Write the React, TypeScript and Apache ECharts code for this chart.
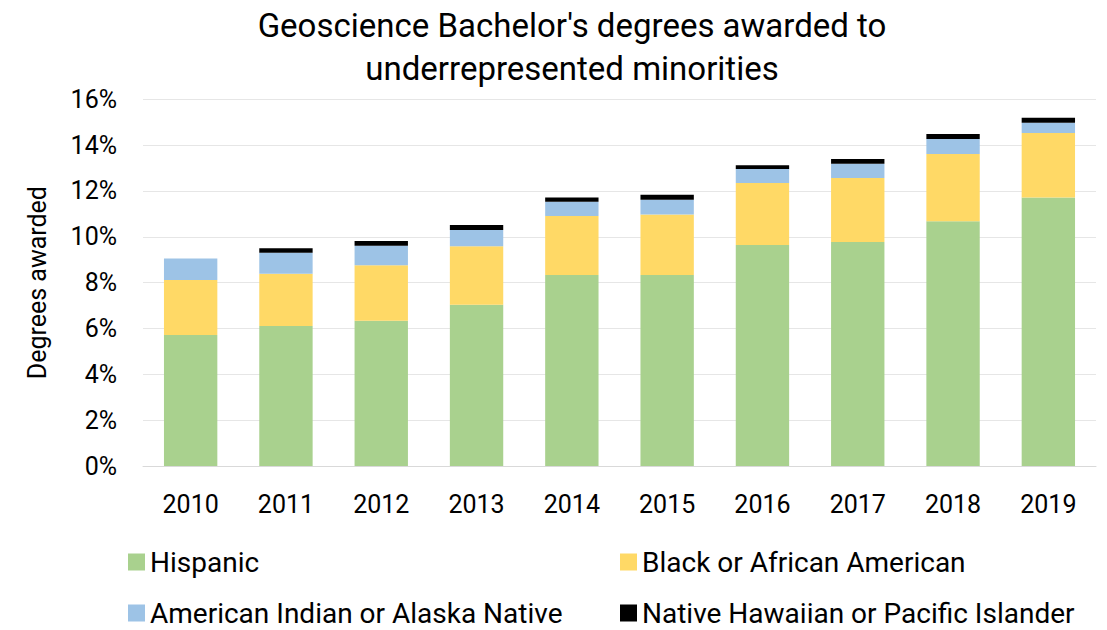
import React, { useEffect, useRef } from "react";
import * as echarts from "echarts";

const years = ["2010", "2011", "2012", "2013", "2014", "2015", "2016", "2017", "2018", "2019"];
const hispanic = [5.72, 6.11, 6.34, 7.04, 8.33, 8.33, 9.64, 9.77, 10.68, 11.71];
const black = [2.4, 2.28, 2.42, 2.55, 2.58, 2.64, 2.71, 2.8, 2.93, 2.82];
const amIndian = [0.93, 0.92, 0.85, 0.71, 0.62, 0.65, 0.61, 0.62, 0.66, 0.45];
const hawaiian = [0, 0.19, 0.21, 0.22, 0.19, 0.22, 0.16, 0.21, 0.22, 0.21];
const yTicks = [0, 2, 4, 6, 8, 10, 12, 14, 16];

const seriesNames = [
  "Hispanic",
  "Black or African American",
  "American Indian or Alaska Native",
  "Native Hawaiian or Pacific Islander",
];
const colors = ["#A9D18E", "#FFD966", "#9DC3E6", "#000000"];
const FONT = "Roboto, sans-serif";

export default function App() {
  const ref = useRef<HTMLDivElement>(null);
  useEffect(() => {
    if (!ref.current) return;
    const chart = echarts.init(ref.current, undefined, { renderer: "svg" });
    const dataSets = [hispanic, black, amIndian, hawaiian];
    const legendPos = [
      { left: 123, top: 543 },
      { left: 615, top: 543 },
      { left: 123, top: 594 },
      { left: 615, top: 594 },
    ];
    chart.setOption({
      animation: false,
      backgroundColor: "#ffffff",
      textStyle: { fontFamily: FONT },
      title: {
        text: "Geoscience Bachelor's degrees awarded to\nunderrepresented minorities",
        left: 567,
        textAlign: "center",
        top: -1,
        textStyle: { fontFamily: FONT, fontSize: 33, fontWeight: "normal", color: "#000", lineHeight: 43 },
      },
      legend: seriesNames.map((n, i) => ({
        data: [n],
        left: legendPos[i].left,
        top: legendPos[i].top,
        itemWidth: 17,
        itemHeight: 17,
        itemGap: 0,
        icon: "rect",
        selectedMode: false,
        textStyle: { fontFamily: FONT, fontSize: 28, color: "#000" },
      })),
      grid: { left: 143, right: 11, top: 99.3, height: 366.7, containLabel: false },
      xAxis: {
        type: "category",
        data: years,
        axisLine: { lineStyle: { color: "#d9d9d9", width: 1 } },
        axisTick: { show: false },
        axisLabel: { fontFamily: FONT, fontSize: 25, color: "#000", margin: 26 },
      },
      yAxis: {
        type: "value",
        min: yTicks[0],
        max: yTicks[yTicks.length - 1],
        interval: 2,
        name: "Degrees awarded",
        nameLocation: "middle",
        nameGap: 93,
        nameTextStyle: { fontFamily: FONT, fontSize: 25, color: "#000" },
        axisLine: { show: false },
        axisTick: { show: false },
        splitLine: { lineStyle: { color: "#e6e6e6", width: 1 } },
        axisLabel: { fontFamily: FONT, fontSize: 25, color: "#000", margin: 26, formatter: (v: number) => v + "%" },
      },
      series: seriesNames.map((n, i) => ({
        name: n,
        type: "bar",
        stack: "total",
        data: dataSets[i],
        barCategoryGap: "44%",
        itemStyle: { color: colors[i] },
      })),
    });
    return () => chart.dispose();
  }, []);
  return <div ref={ref} style={{ position: "absolute", left: 0, top: 0, width: 1107, height: 630 }} />;
}
